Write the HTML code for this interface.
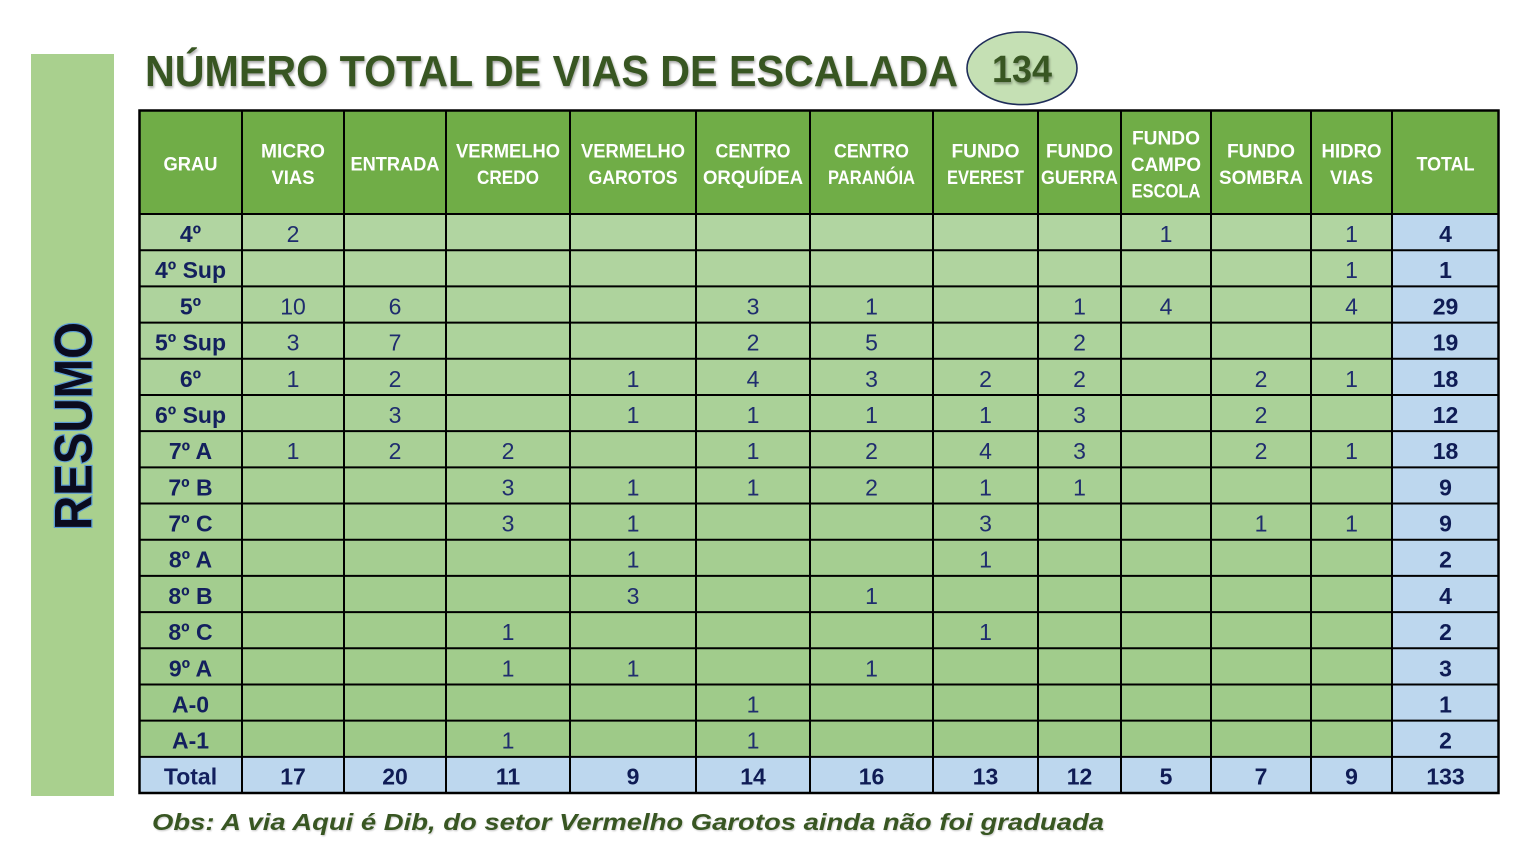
<!DOCTYPE html>
<html><head><meta charset="utf-8"><style>
html,body{margin:0;padding:0;background:#fff;}
svg{display:block;}
.h{font-family:"Liberation Sans",sans-serif;font-weight:bold;font-size:19.5px;fill:#fff;text-anchor:middle;}
.g{font-family:"Liberation Sans",sans-serif;font-weight:bold;font-size:23px;fill:#13205e;text-anchor:middle;}
.n{font-family:"Liberation Sans",sans-serif;font-weight:normal;font-size:23px;fill:#1f2d6e;text-anchor:middle;}
.t{font-family:"Liberation Sans",sans-serif;font-weight:bold;font-size:23px;fill:#0f1c55;text-anchor:middle;}
</style></head><body>
<svg width="1520" height="855" viewBox="0 0 1520 855" xmlns="http://www.w3.org/2000/svg">
<defs>
<filter id="sh" x="-5%" y="-20%" width="110%" height="150%"><feDropShadow dx="1" dy="2" stdDeviation="1.2" flood-color="#000" flood-opacity="0.35"/></filter>
<filter id="sh2" x="-5%" y="-20%" width="110%" height="150%"><feDropShadow dx="0.8" dy="1.2" stdDeviation="0.8" flood-color="#000" flood-opacity="0.2"/></filter>
</defs>
<rect x="0" y="0" width="1520" height="855" fill="#fff"/>
<!-- left bar -->
<rect x="31" y="54" width="83" height="742" fill="#a9d08e"/>
<text transform="translate(91.5,426) rotate(-90)" font-family="Liberation Sans,sans-serif" font-weight="bold" font-size="53" text-anchor="middle" textLength="208" lengthAdjust="spacingAndGlyphs" fill="#0b0b1e" stroke="#5b9bd5" stroke-width="2.5" paint-order="stroke" style="paint-order:stroke">RESUMO</text>
<!-- title -->
<text x="145" y="86" font-family="Liberation Sans,sans-serif" font-weight="bold" font-size="44" fill="#375623" textLength="813" lengthAdjust="spacingAndGlyphs" filter="url(#sh)">NÚMERO TOTAL DE VIAS DE ESCALADA</text>
<ellipse cx="1022" cy="68.3" rx="55" ry="36.3" fill="#c5e0b4" stroke="#1f2d5a" stroke-width="1.6"/>
<text x="1022" y="82" font-family="Liberation Sans,sans-serif" font-weight="bold" font-size="38" fill="#375623" text-anchor="middle" textLength="60" lengthAdjust="spacingAndGlyphs" filter="url(#sh)">134</text>

<!-- header -->
<rect x="139" y="110" width="1360" height="104" fill="#70ad47"/>
<!-- row fills -->
<rect x="139" y="214" width="1253" height="36.19" fill="rgb(177,213,161)"/>
<rect x="139" y="250.19" width="1253" height="36.19" fill="rgb(176,212,159)"/>
<rect x="139" y="286.38" width="1253" height="36.19" fill="rgb(174,211,157)"/>
<rect x="139" y="322.57" width="1253" height="36.19" fill="rgb(173,211,156)"/>
<rect x="139" y="358.76" width="1253" height="36.19" fill="rgb(172,210,154)"/>
<rect x="139" y="394.95" width="1253" height="36.19" fill="rgb(170,209,152)"/>
<rect x="139" y="431.14" width="1253" height="36.19" fill="rgb(169,208,150)"/>
<rect x="139" y="467.33" width="1253" height="36.19" fill="rgb(168,208,149)"/>
<rect x="139" y="503.52" width="1253" height="36.19" fill="rgb(166,207,147)"/>
<rect x="139" y="539.71" width="1253" height="36.19" fill="rgb(165,206,145)"/>
<rect x="139" y="575.9" width="1253" height="36.19" fill="rgb(163,205,143)"/>
<rect x="139" y="612.09" width="1253" height="36.19" fill="rgb(162,204,141)"/>
<rect x="139" y="648.28" width="1253" height="36.19" fill="rgb(161,204,140)"/>
<rect x="139" y="684.47" width="1253" height="36.19" fill="rgb(159,203,138)"/>
<rect x="139" y="720.66" width="1253" height="36.19" fill="rgb(158,202,136)"/>
<!-- total column and total row -->
<rect x="1392" y="214" width="107" height="543" fill="#bdd7ee"/>
<rect x="139" y="756.85" width="1360" height="36.19" fill="#bdd7ee"/>

<!-- grid lines -->
<g stroke="#000" stroke-width="2">
<line x1="242" y1="110" x2="242" y2="793"/>
<line x1="344" y1="110" x2="344" y2="793"/>
<line x1="446" y1="110" x2="446" y2="793"/>
<line x1="570" y1="110" x2="570" y2="793"/>
<line x1="696" y1="110" x2="696" y2="793"/>
<line x1="810" y1="110" x2="810" y2="793"/>
<line x1="933" y1="110" x2="933" y2="793"/>
<line x1="1038" y1="110" x2="1038" y2="793"/>
<line x1="1121" y1="110" x2="1121" y2="793"/>
<line x1="1211" y1="110" x2="1211" y2="793"/>
<line x1="1311" y1="110" x2="1311" y2="793"/>
<line x1="1392" y1="110" x2="1392" y2="793"/>
<line x1="139" y1="214" x2="1499" y2="214"/>
<line x1="139" y1="250.19" x2="1499" y2="250.19"/>
<line x1="139" y1="286.38" x2="1499" y2="286.38"/>
<line x1="139" y1="322.57" x2="1499" y2="322.57"/>
<line x1="139" y1="358.76" x2="1499" y2="358.76"/>
<line x1="139" y1="394.95" x2="1499" y2="394.95"/>
<line x1="139" y1="431.14" x2="1499" y2="431.14"/>
<line x1="139" y1="467.33" x2="1499" y2="467.33"/>
<line x1="139" y1="503.52" x2="1499" y2="503.52"/>
<line x1="139" y1="539.71" x2="1499" y2="539.71"/>
<line x1="139" y1="575.9" x2="1499" y2="575.9"/>
<line x1="139" y1="612.09" x2="1499" y2="612.09"/>
<line x1="139" y1="648.28" x2="1499" y2="648.28"/>
<line x1="139" y1="684.47" x2="1499" y2="684.47"/>
<line x1="139" y1="720.66" x2="1499" y2="720.66"/>
<line x1="139" y1="756.85" x2="1499" y2="756.85"/>
</g>
<rect x="139.5" y="110.5" width="1359" height="682.5" fill="none" stroke="#000" stroke-width="2.5"/>

<!-- header text -->
<text class="h" x="190.5" y="170.5" textLength="54" lengthAdjust="spacingAndGlyphs">GRAU</text>
<text class="h" x="293" y="157.7" textLength="64" lengthAdjust="spacingAndGlyphs">MICRO</text>
<text class="h" x="293" y="184" textLength="43" lengthAdjust="spacingAndGlyphs">VIAS</text>
<text class="h" x="395" y="170.5" textLength="89" lengthAdjust="spacingAndGlyphs">ENTRADA</text>
<text class="h" x="508" y="157.7" textLength="104" lengthAdjust="spacingAndGlyphs">VERMELHO</text>
<text class="h" x="508" y="184" textLength="62" lengthAdjust="spacingAndGlyphs">CREDO</text>
<text class="h" x="633" y="157.7" textLength="104" lengthAdjust="spacingAndGlyphs">VERMELHO</text>
<text class="h" x="633" y="184" textLength="89" lengthAdjust="spacingAndGlyphs">GAROTOS</text>
<text class="h" x="753" y="157.7" textLength="75" lengthAdjust="spacingAndGlyphs">CENTRO</text>
<text class="h" x="753" y="184" textLength="100" lengthAdjust="spacingAndGlyphs">ORQUÍDEA</text>
<text class="h" x="871.5" y="157.7" textLength="75" lengthAdjust="spacingAndGlyphs">CENTRO</text>
<text class="h" x="871.5" y="184" textLength="87" lengthAdjust="spacingAndGlyphs">PARANÓIA</text>
<text class="h" x="985.5" y="157.7" textLength="68" lengthAdjust="spacingAndGlyphs">FUNDO</text>
<text class="h" x="985.5" y="184" textLength="77" lengthAdjust="spacingAndGlyphs">EVEREST</text>
<text class="h" x="1079.5" y="157.7" textLength="67" lengthAdjust="spacingAndGlyphs">FUNDO</text>
<text class="h" x="1079.5" y="184" textLength="77" lengthAdjust="spacingAndGlyphs">GUERRA</text>
<text class="h" x="1166" y="144.3" textLength="68" lengthAdjust="spacingAndGlyphs">FUNDO</text>
<text class="h" x="1166" y="171" textLength="70" lengthAdjust="spacingAndGlyphs">CAMPO</text>
<text class="h" x="1166" y="197.3" textLength="69" lengthAdjust="spacingAndGlyphs">ESCOLA</text>
<text class="h" x="1261" y="157.7" textLength="68" lengthAdjust="spacingAndGlyphs">FUNDO</text>
<text class="h" x="1261" y="184" textLength="84" lengthAdjust="spacingAndGlyphs">SOMBRA</text>
<text class="h" x="1351.5" y="157.7" textLength="60" lengthAdjust="spacingAndGlyphs">HIDRO</text>
<text class="h" x="1351.5" y="184" textLength="43" lengthAdjust="spacingAndGlyphs">VIAS</text>
<text class="h" x="1445.5" y="170.5" textLength="58" lengthAdjust="spacingAndGlyphs">TOTAL</text>

<!-- grade labels -->
<text class="g" x="190.5" y="242">4º</text>
<text class="g" x="190.5" y="278.2">4º Sup</text>
<text class="g" x="190.5" y="314.4">5º</text>
<text class="g" x="190.5" y="350.6">5º Sup</text>
<text class="g" x="190.5" y="386.8">6º</text>
<text class="g" x="190.5" y="423">6º Sup</text>
<text class="g" x="190.5" y="459.1">7º A</text>
<text class="g" x="190.5" y="495.3">7º B</text>
<text class="g" x="190.5" y="531.5">7º C</text>
<text class="g" x="190.5" y="567.7">8º A</text>
<text class="g" x="190.5" y="603.9">8º B</text>
<text class="g" x="190.5" y="640.1">8º C</text>
<text class="g" x="190.5" y="676.3">9º A</text>
<text class="g" x="190.5" y="712.5">A-0</text>
<text class="g" x="190.5" y="748.7">A-1</text>
<text class="g" x="190.5" y="784.7">Total</text>

<!-- data -->
<text class="n" x="293" y="242">2</text>
<text class="n" x="1166" y="242">1</text>
<text class="n" x="1351.5" y="242">1</text>
<text class="t" x="1445.5" y="242">4</text>
<text class="n" x="1351.5" y="278.2">1</text>
<text class="t" x="1445.5" y="278.2">1</text>
<text class="n" x="293" y="314.4">10</text>
<text class="n" x="395" y="314.4">6</text>
<text class="n" x="753" y="314.4">3</text>
<text class="n" x="871.5" y="314.4">1</text>
<text class="n" x="1079.5" y="314.4">1</text>
<text class="n" x="1166" y="314.4">4</text>
<text class="n" x="1351.5" y="314.4">4</text>
<text class="t" x="1445.5" y="314.4">29</text>
<text class="n" x="293" y="350.6">3</text>
<text class="n" x="395" y="350.6">7</text>
<text class="n" x="753" y="350.6">2</text>
<text class="n" x="871.5" y="350.6">5</text>
<text class="n" x="1079.5" y="350.6">2</text>
<text class="t" x="1445.5" y="350.6">19</text>
<text class="n" x="293" y="386.8">1</text>
<text class="n" x="395" y="386.8">2</text>
<text class="n" x="633" y="386.8">1</text>
<text class="n" x="753" y="386.8">4</text>
<text class="n" x="871.5" y="386.8">3</text>
<text class="n" x="985.5" y="386.8">2</text>
<text class="n" x="1079.5" y="386.8">2</text>
<text class="n" x="1261" y="386.8">2</text>
<text class="n" x="1351.5" y="386.8">1</text>
<text class="t" x="1445.5" y="386.8">18</text>
<text class="n" x="395" y="423">3</text>
<text class="n" x="633" y="423">1</text>
<text class="n" x="753" y="423">1</text>
<text class="n" x="871.5" y="423">1</text>
<text class="n" x="985.5" y="423">1</text>
<text class="n" x="1079.5" y="423">3</text>
<text class="n" x="1261" y="423">2</text>
<text class="t" x="1445.5" y="423">12</text>
<text class="n" x="293" y="459.1">1</text>
<text class="n" x="395" y="459.1">2</text>
<text class="n" x="508" y="459.1">2</text>
<text class="n" x="753" y="459.1">1</text>
<text class="n" x="871.5" y="459.1">2</text>
<text class="n" x="985.5" y="459.1">4</text>
<text class="n" x="1079.5" y="459.1">3</text>
<text class="n" x="1261" y="459.1">2</text>
<text class="n" x="1351.5" y="459.1">1</text>
<text class="t" x="1445.5" y="459.1">18</text>
<text class="n" x="508" y="495.3">3</text>
<text class="n" x="633" y="495.3">1</text>
<text class="n" x="753" y="495.3">1</text>
<text class="n" x="871.5" y="495.3">2</text>
<text class="n" x="985.5" y="495.3">1</text>
<text class="n" x="1079.5" y="495.3">1</text>
<text class="t" x="1445.5" y="495.3">9</text>
<text class="n" x="508" y="531.5">3</text>
<text class="n" x="633" y="531.5">1</text>
<text class="n" x="985.5" y="531.5">3</text>
<text class="n" x="1261" y="531.5">1</text>
<text class="n" x="1351.5" y="531.5">1</text>
<text class="t" x="1445.5" y="531.5">9</text>
<text class="n" x="633" y="567.7">1</text>
<text class="n" x="985.5" y="567.7">1</text>
<text class="t" x="1445.5" y="567.7">2</text>
<text class="n" x="633" y="603.9">3</text>
<text class="n" x="871.5" y="603.9">1</text>
<text class="t" x="1445.5" y="603.9">4</text>
<text class="n" x="508" y="640.1">1</text>
<text class="n" x="985.5" y="640.1">1</text>
<text class="t" x="1445.5" y="640.1">2</text>
<text class="n" x="508" y="676.3">1</text>
<text class="n" x="633" y="676.3">1</text>
<text class="n" x="871.5" y="676.3">1</text>
<text class="t" x="1445.5" y="676.3">3</text>
<text class="n" x="753" y="712.5">1</text>
<text class="t" x="1445.5" y="712.5">1</text>
<text class="n" x="508" y="748.7">1</text>
<text class="n" x="753" y="748.7">1</text>
<text class="t" x="1445.5" y="748.7">2</text>
<text class="t" x="293" y="784.7">17</text>
<text class="t" x="395" y="784.7">20</text>
<text class="t" x="508" y="784.7">11</text>
<text class="t" x="633" y="784.7">9</text>
<text class="t" x="753" y="784.7">14</text>
<text class="t" x="871.5" y="784.7">16</text>
<text class="t" x="985.5" y="784.7">13</text>
<text class="t" x="1079.5" y="784.7">12</text>
<text class="t" x="1166" y="784.7">5</text>
<text class="t" x="1261" y="784.7">7</text>
<text class="t" x="1351.5" y="784.7">9</text>
<text class="t" x="1445.5" y="784.7">133</text>

<!-- obs -->
<text x="152" y="830" font-family="Liberation Sans,sans-serif" font-weight="bold" font-style="italic" font-size="23" fill="#375623" textLength="952" lengthAdjust="spacingAndGlyphs" filter="url(#sh2)">Obs: A via Aqui é Dib, do setor Vermelho Garotos ainda não foi graduada</text>
</svg>
</body></html>
